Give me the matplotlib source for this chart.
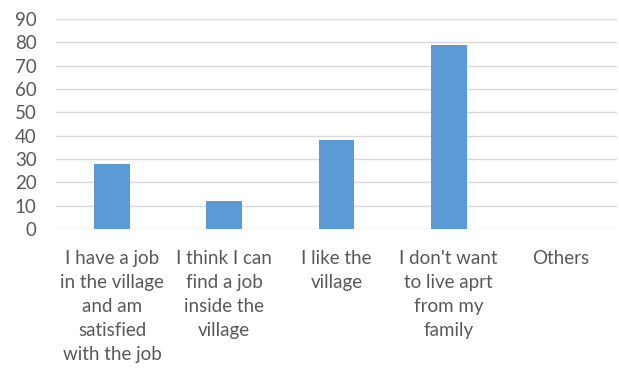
import matplotlib.pyplot as plt

categories = ["I have a job\nin the village\nand am\nsatisfied\nwith the job",
              "I think I can\nfind a job\ninside the\nvillage",
              "I like the\nvillage",
              "I don't want\nto live aprt\nfrom my\nfamily",
              "Others"]
values = [28, 12, 38, 79, 0]
yticks = [0, 10, 20, 30, 40, 50, 60, 70, 80, 90]

plt.rcParams['font.family'] = ['Lato', 'DejaVu Sans']
grey = '#595959'

fig = plt.figure(figsize=(6.19, 3.71), dpi=100)
ax = fig.add_axes([56/619, 142/371, 561/619, 210/371])

x = range(len(categories))
ax.bar(x, values, width=0.32, color='#5b9bd5', zorder=3)

ax.set_ylim(0, 90)
ax.set_xlim(-0.5, len(categories) - 0.5)
ax.set_yticks(yticks)
ax.set_xticks(list(x))
ax.set_xticklabels(categories, linespacing=1.5)
ax.grid(axis='y', color='#d9d9d9', linewidth=1, zorder=0)
for s in ax.spines.values():
    s.set_visible(False)
ax.tick_params(axis='both', length=0, colors=grey, labelsize=13.5)
ax.tick_params(axis='y', pad=14)
ax.tick_params(axis='x', pad=15)

fig.savefig('out.png', dpi=100)
